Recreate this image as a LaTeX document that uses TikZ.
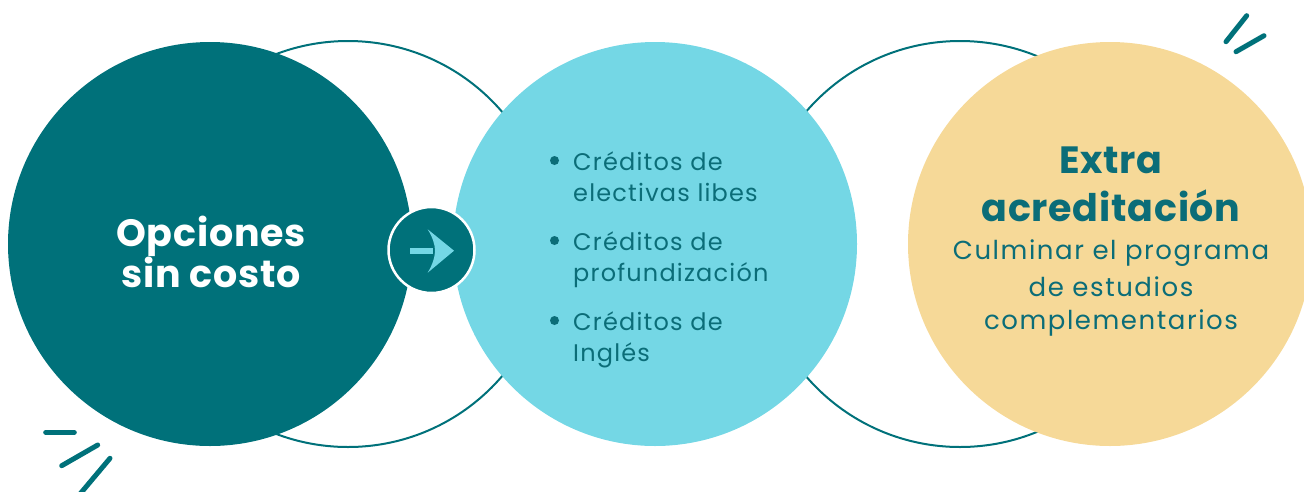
\documentclass[tikz,border=0pt]{standalone}
\usepackage{fontspec}
\setmainfont{Poppins}
\definecolor{dteal}{HTML}{00717A}
\definecolor{lblue}{HTML}{74D7E5}
\definecolor{sand}{HTML}{F6D998}
\definecolor{ink}{HTML}{0B6D78}
\tikzset{
  ring/.style={draw=dteal, line width=2pt},
  disc/.style={circle, inner sep=0pt, minimum size=404pt},
  title/.style={font=\fontsize{38}{42}\selectfont\bfseries\addfontfeatures{LetterSpace=2}, anchor=base},
  item/.style={font=\fontsize{24}{28}\selectfont\addfontfeatures{LetterSpace=5}, text=ink, anchor=base west, inner sep=0pt},
  body/.style={font=\fontsize{26}{30}\selectfont\addfontfeatures{LetterSpace=6}, text=ink, anchor=base, inner sep=0pt},
  tick/.style={draw=dteal, line width=5pt, line cap=round}
}
\begin{document}
\begin{tikzpicture}[x=1pt,y=-1pt]
\useasboundingbox (0,0) rectangle (1304,491);
\clip (0,0) rectangle (1304,491);
% outline rings
\node[disc, ring, minimum size=406pt] (r1) at (348,244) {};
\node[disc, ring, minimum size=406pt] (r2) at (960,244) {};
% main discs
\node[disc, fill=dteal] (c1) at (210,244) {};
\node[disc, fill=lblue] (c2) at (655,244) {};
\node[disc, fill=sand] (c3) at (1110,244) {};
% arrow badge
\node[circle, fill=dteal, draw=white, line width=2.5pt, minimum size=86pt, inner sep=0pt] (arr) at (431.5,250) {};
\fill[lblue] (410,247.7) rectangle (433,253.7);
\fill[lblue] (454,250.7) -- (427.7,229.3) .. controls (433,238) and (435,245) .. (435,250.7)
  .. controls (435,256) and (433,264) .. (427.7,272.7) -- cycle;
% left text
\node[title, text=white] (t1) at (211,246) {Opciones};
\node[title, text=white] (t2) at (211,287) {sin costo};
% bullets
\fill[ink] (554.5,160.5) circle (4.5pt);
\fill[ink] (554.5,240.5) circle (4.5pt);
\fill[ink] (554.5,320.5) circle (4.5pt);
\node[item] (b1a) at (573,170) {Créditos de};
\node[item] (b1b) at (573,201.5) {electivas libes};
\node[item] (b2a) at (573,250) {Créditos de};
\node[item] (b2b) at (573,281.5) {profundización};
\node[item] (b3a) at (573,330) {Créditos de};
\node[item] (b3b) at (573,361.5) {Inglés};
% right text
\node[title, text=ink] (e1) at (1111,173) {Extra};
\node[title, text=ink] (e2) at (1111,221.5) {acreditación};
\node[body] (d1) at (1111,259) {Culminar el programa};
\node[body] (d2) at (1111,296.5) {de estudios};
\node[body] (d3) at (1111,329) {complementarios};
% decorative ticks
\draw[tick] (1226,41.7) -- (1246.7,15.7);
\draw[tick] (1236,51.7) -- (1264,35.7);
\draw[tick] (45.7,432.3) -- (74.3,432.3);
\draw[tick] (61.7,465.7) -- (97.7,445);
\draw[tick] (110,458.3) -- (80,494);
\end{tikzpicture}
\end{document}
